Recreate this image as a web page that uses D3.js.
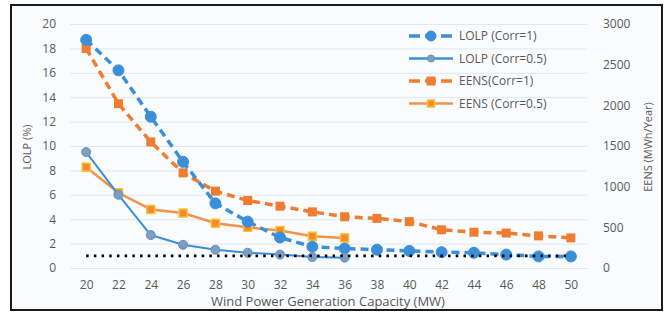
<!DOCTYPE html>
<html>
<head>
<meta charset="utf-8">
<script src="https://cdn.jsdelivr.net/npm/d3@7"></script>
<style>
  body { margin: 0; background: #fff; }
  text { font-family: "Open Sans", sans-serif; fill: #595959; }
</style>
</head>
<body>
<div id="chart"></div>
<script>
// data
var capacity = [20, 22, 24, 26, 28, 30, 32, 34, 36, 38, 40, 42, 44, 46, 48, 50];
var lolpCorr1 = [18.7, 16.2, 12.4, 8.7, 5.3, 3.8, 2.5, 1.75, 1.6, 1.5, 1.4, 1.3, 1.25, 1.1, 0.95, 0.95];
var lolpCorr05 = [9.5, 6.0, 2.7, 1.9, 1.5, 1.25, 1.1, 0.9, 0.85];
var eensCorr1 = [2700, 2020, 1550, 1170, 945, 830, 760, 690, 630, 610, 570, 470, 440, 430, 395, 370];
var eensCorr05 = [1240, 925, 720, 675, 550, 500, 460, 390, 370];
var threshold = [1, 1, 1, 1, 1, 1, 1, 1, 1, 1, 1, 1, 1, 1, 1, 1];
var leftTicks = [0, 2, 4, 6, 8, 10, 12, 14, 16, 18, 20];
var rightTicks = [0, 500, 1000, 1500, 2000, 2500, 3000];

var width = 666,
	height = 313,
	blue = "#3b8fd9",
	orange = "#ee7d31",
	svg = d3.select("#chart")
	.append("svg")
	.attr("width", width)
	.attr("height", height);

var x = d3.scalePoint()
	.domain(capacity)
	.range([70, 587])
	.padding(0.5),
	yL = d3.scaleLinear().domain([0, 20]).range([268, 24]),
	yR = d3.scaleLinear().domain([0, 3000]).range([268, 24]);

// frame
svg.append("rect")
	.attr("x", 11).attr("y", 5)
	.attr("width", 651).attr("height", 305)
	.attr("fill", "#fafbfc")
	.attr("stroke", "#1a1a1a")
	.attr("stroke-width", 2);

// gridlines
svg.append("g")
	.attr("transform", "translate(70,0)")
	.call(d3.axisLeft(yL).tickValues(leftTicks).tickSize(-517).tickFormat(""))
	.call(function(g) { g.select(".domain").remove(); })
	.selectAll("line").attr("stroke", "#dfe8f0");

// left axis
var gl = svg.append("g")
	.attr("transform", "translate(59,0)")
	.call(d3.axisLeft(yL).tickValues(leftTicks).tickSize(0));
gl.select(".domain").remove();
gl.selectAll("text").style("font-size", "12px").attr("fill", "#595959");

// right axis
var gr = svg.append("g")
	.attr("transform", "translate(600,0)")
	.call(d3.axisRight(yR).tickValues(rightTicks).tickSize(0).tickFormat(d3.format("d")));
gr.select(".domain").remove();
gr.selectAll("text").style("font-size", "12px").attr("fill", "#595959");

// x axis
var gx = svg.append("g")
	.attr("transform", "translate(0,277)")
	.call(d3.axisBottom(x).tickSize(0));
gx.select(".domain").remove();
gx.selectAll("text").style("font-size", "12px").attr("fill", "#595959");

// titles
svg.append("text")
	.attr("x", 328).attr("y", 306)
	.attr("text-anchor", "middle")
	.style("font-size", "13px")
	.text("Wind Power Generation Capacity (MW)");
svg.append("text")
	.attr("transform", "translate(31,147) rotate(-90)")
	.attr("text-anchor", "middle")
	.style("font-size", "11px")
	.text("LOLP (%)");
svg.append("text")
	.attr("transform", "translate(652,147) rotate(-90)")
	.attr("text-anchor", "middle")
	.style("font-size", "11px")
	.text("EENS (MWh/Year)");

// series helpers
function drawLine(vals, y, color, dash, w) {
	var line = d3.line()
		.x(function(d, i) { return x(capacity[i]); })
		.y(function(d) { return y(d); });
	svg.append("path")
		.datum(vals)
		.attr("d", line)
		.attr("fill", "none")
		.attr("stroke", color)
		.attr("stroke-width", w)
		.attr("stroke-dasharray", dash);
}

function drawCircles(vals, y, r, fill, stroke) {
	svg.append("g").selectAll("circle")
		.data(vals)
		.enter().append("circle")
		.attr("cx", function(d, i) { return x(capacity[i]); })
		.attr("cy", function(d) { return y(d); })
		.attr("r", r)
		.attr("fill", fill)
		.attr("stroke", stroke)
		.attr("stroke-width", 1);
}

function drawSquares(vals, y, s, fill, stroke, sw) {
	svg.append("g").selectAll("rect")
		.data(vals)
		.enter().append("rect")
		.attr("x", function(d, i) { return x(capacity[i]) - s / 2; })
		.attr("y", function(d) { return y(d) - s / 2; })
		.attr("width", s)
		.attr("height", s)
		.attr("fill", fill)
		.attr("stroke", stroke)
		.attr("stroke-width", sw);
}

// EENS series
drawLine(eensCorr1, yR, orange, "8,5", 3.5);
drawSquares(eensCorr1, yR, 9, orange, "none", 0);
drawLine(eensCorr05, yR, "#f4924a", null, 2.5);
drawSquares(eensCorr05, yR, 8, "#f28a33", "#fcc02e", 1.5);

// LOLP series
drawLine(lolpCorr1, yL, blue, "8,5", 3.5);
drawCircles(lolpCorr1, yL, 5.5, blue, blue);
drawLine(lolpCorr05, yL, blue, null, 2);
drawCircles(lolpCorr05, yL, 4.5, "#7f9dbd", "#5d93c8");

// threshold (dotted)
drawLine(threshold, yL, "#000", "2.5,5.2", 2.8);

// legend
var legendItems = [
	{ name: "LOLP (Corr=1)", color: blue, dash: "8,5", shape: "circle", r: 5, fill: blue, stroke: blue },
	{ name: "LOLP (Corr=0.5)", color: blue, dash: null, shape: "circle", r: 3.5, fill: "#7f9dbd", stroke: "#5d93c8" },
	{ name: "EENS(Corr=1)", color: orange, dash: "8,5", shape: "square", r: 9, fill: orange, stroke: "none" },
	{ name: "EENS (Corr=0.5)", color: "#f4924a", dash: null, shape: "square", r: 7, fill: "#f28a33", stroke: "#fcc02e" }
];
var lg = svg.append("g").selectAll("g")
	.data(legendItems)
	.enter().append("g")
	.attr("transform", function(d, i) { return "translate(409," + (36 + i * 22.5) + ")"; });
lg.append("line")
	.attr("x1", 0).attr("x2", 44)
	.attr("stroke", function(d) { return d.color; })
	.attr("stroke-width", function(d) { return d.dash ? 3.5 : 2.5; })
	.attr("stroke-dasharray", function(d) { return d.dash ? "11,5" : null; });
lg.filter(function(d) { return d.shape == "circle"; })
	.append("circle")
	.attr("cx", 22).attr("r", function(d) { return d.r; })
	.attr("fill", function(d) { return d.fill; })
	.attr("stroke", function(d) { return d.stroke; });
lg.filter(function(d) { return d.shape == "square"; })
	.append("rect")
	.attr("x", function(d) { return 22 - d.r / 2; })
	.attr("y", function(d) { return -d.r / 2; })
	.attr("width", function(d) { return d.r; })
	.attr("height", function(d) { return d.r; })
	.attr("fill", function(d) { return d.fill; })
	.attr("stroke", function(d) { return d.stroke; })
	.attr("stroke-width", 1.5);
lg.append("text")
	.attr("x", 50).attr("dy", "0.35em")
	.style("font-size", "12px")
	.text(function(d) { return d.name; });
</script>
</body>
</html>
